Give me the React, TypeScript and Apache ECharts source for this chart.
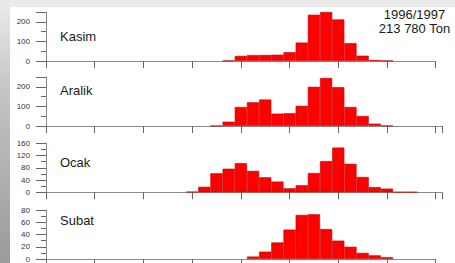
import React, { useEffect, useRef } from "react";
import * as echarts from "echarts";

// bin index of the first value in each month's list (bins are 1/4 of a major x tick)
const kasimStart = 15;
const kasim = [2, 26, 30, 31, 32, 45, 94, 236, 250, 212, 91, 27, 5, 2];
const aralikStart = 14;
const aralik = [1, 22, 97, 121, 135, 63, 65, 103, 200, 245, 198, 97, 51, 12, 2];
const ocakStart = 12;
const ocak = [2, 18, 62, 77, 95, 70, 49, 35, 13, 23, 63, 102, 146, 93, 50, 17, 12, 1, 1];
const subatStart = 17;
const subat = [4, 12, 27, 48, 72, 73, 49, 30, 20, 10, 6, 3];

const months = ["Kasim", "Aralik", "Ocak", "Subat"];
const yMax = [250, 250, 160, 80];
const yMajor = [100, 100, 40, 20];
const yMinor = [50, 50, 20, 10];
const xMax = [32, 32.5, 32.5, 32];
const seasonLabel = "1996/1997";
const totalLabel = "213 780 Ton";

const FONT = '"Liberation Sans", Arial, sans-serif';
const BIN = 12.178;
const LEFT = 46;
const tops = [12, 77, 143.3, 210];
const HEIGHT = 49;
const titleY = [36, 90, 162.3, 220.7];

export default function App() {
  const ref = useRef<HTMLDivElement>(null);
  useEffect(() => {
    if (!ref.current) return;
    const chart = echarts.init(ref.current, null, { renderer: "svg" });
    const sets = [
      [kasimStart, kasim],
      [aralikStart, aralik],
      [ocakStart, ocak],
      [subatStart, subat],
    ] as [number, number[]][];
    const grid = tops.map((t, i) => ({
      left: LEFT,
      top: t,
      width: BIN * xMax[i],
      height: HEIGHT,
      containLabel: false,
    }));
    const xAxis = tops.map((_, i) => ({
      type: "value",
      gridIndex: i,
      position: "bottom",
      min: 0,
      max: xMax[i],
      interval: 4,
      axisLine: { show: true, onZero: false, lineStyle: { color: "#8a8a8a", width: 1 } },
      axisTick: { show: true, length: 7, lineStyle: { color: "#666", width: 1 } },
      axisLabel: { show: false },
      splitLine: { show: false },
    }));
    const yAxis: any[] = [];
    tops.forEach((_, i) => {
      yAxis.push({
        type: "value",
        gridIndex: i,
        position: "left",
        offset: 0,
        min: 0,
        max: yMax[i],
        interval: yMinor[i],
        axisLine: { show: true, onZero: false, lineStyle: { color: "#8a8a8a", width: 1 } },
        axisTick: { show: true, length: 5, lineStyle: { color: "#666", width: 1 } },
        axisLabel: {
          show: true,
          fontSize: 8,
          fontFamily: FONT,
          color: "#333",
          margin: 16,
          formatter: (v: number) => (v % yMajor[i] === 0 ? String(v) : ""),
        },
        splitLine: { show: false },
      });
    });
    tops.forEach((_, i) => {
      yAxis.push({
        type: "value",
        gridIndex: i,
        position: "left",
        offset: 0,
        min: 0,
        max: yMax[i],
        interval: yMajor[i],
        axisLine: { show: false, onZero: false },
        axisTick: { show: true, length: 10, lineStyle: { color: "#666", width: 1 } },
        axisLabel: { show: false },
        splitLine: { show: false },
      });
    });
    const series = sets.map(([start, vals], i) => ({
      type: "bar",
      xAxisIndex: i,
      yAxisIndex: i,
      barWidth: BIN,
      data: vals.map((v, k) => [start + k, v]),
      itemStyle: { color: "#ff0000", borderColor: "#c40000", borderWidth: 0.6 },
      silent: true,
    }));
    const graphic: any[] = [
      { type: "rect", shape: { x: 0, y: 0, width: 455, height: 263 }, style: { fill: "#ffffff" }, z: -10 },
      { type: "rect", shape: { x: 0, y: 0, width: 455, height: 7 }, style: { fill: "#ebebeb" }, z: -9 },
      {
        type: "rect",
        shape: { x: 0, y: 0, width: 10, height: 263 },
        style: {
          fill: new echarts.graphic.LinearGradient(0, 0, 0, 1, [
            { offset: 0, color: "#ebebeb" },
            { offset: 0.35, color: "#c4c4c4" },
            { offset: 1, color: "#9a9a9a" },
          ]),
        },
        z: -9,
      },
    ];
    months.forEach((m, i) => {
      graphic.push({
        type: "text",
        x: 60,
        y: titleY[i],
        style: { text: m, fill: "#1a1a1a", font: `13px ${FONT}`, align: "left", verticalAlign: "middle" },
        z: 10,
      });
    });
    graphic.push({
      type: "text",
      x: 414.5,
      y: 14,
      style: { text: seasonLabel, fill: "#1a1a1a", font: `13px ${FONT}`, align: "center", verticalAlign: "middle" },
      z: 10,
    });
    graphic.push({
      type: "text",
      x: 414.5,
      y: 28.3,
      style: { text: totalLabel, fill: "#1a1a1a", font: `13px ${FONT}`, align: "center", verticalAlign: "middle" },
      z: 10,
    });
    chart.setOption({
      animation: false,
      backgroundColor: "#ffffff",
      grid,
      xAxis,
      yAxis,
      series,
      graphic,
    });
    return () => chart.dispose();
  }, []);
  return (
    <div
      ref={ref}
      style={{ position: "fixed", left: 0, top: 0, width: 455, height: 263 }}
    />
  );
}
